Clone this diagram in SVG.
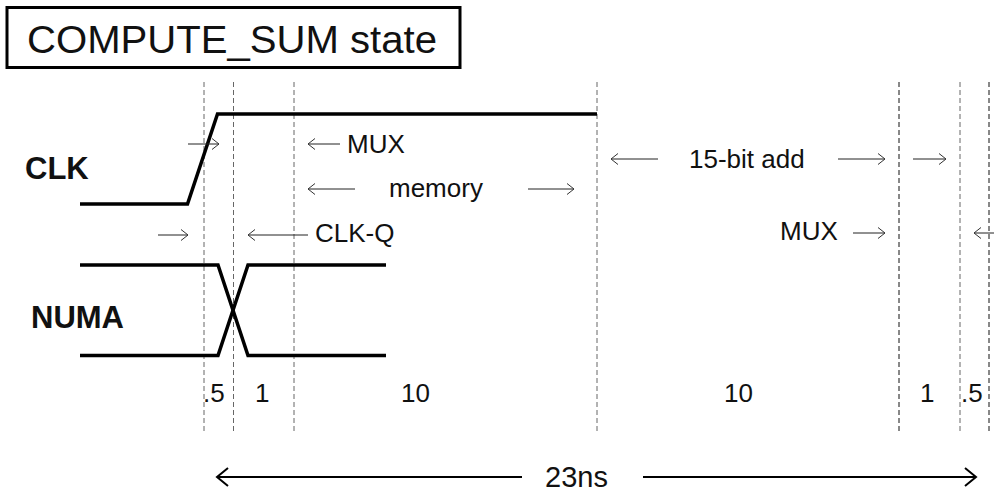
<svg xmlns="http://www.w3.org/2000/svg" width="994" height="495" viewBox="0 0 994 495">
<style>
text{font-family:"Liberation Sans",Arial,sans-serif;fill:#111}
.lbl{font-size:26px}
.sig{font-size:31px;font-weight:bold}
.num{font-size:26px}
.dash{stroke:#666;stroke-width:1;stroke-dasharray:5,3;fill:none}
.dashd{stroke:#111;stroke-width:1;stroke-dasharray:5,3;fill:none}
.wave{stroke:#000;stroke-width:3.5;fill:none;stroke-linejoin:miter}
.arr{stroke:#222;stroke-width:1;fill:none}
.big{stroke:#000;stroke-width:2;fill:none}
</style>
<defs>
<marker id="ah" markerUnits="userSpaceOnUse" markerWidth="12" markerHeight="14" refX="8" refY="6" orient="auto" overflow="visible">
<path d="M1,0.5 L8,6 L1,11.5" fill="none" stroke="#333" stroke-width="1"/>
</marker>
<marker id="ahb" markerUnits="userSpaceOnUse" markerWidth="14" markerHeight="20" refX="11" refY="9" orient="auto" overflow="visible">
<path d="M0,0 L11,9 L0,18" fill="none" stroke="#000" stroke-width="2"/>
</marker>
</defs>
<g id="title">
<rect x="7" y="7.5" width="453" height="60" fill="#fff" stroke="#000" stroke-width="3"/>
<text x="27" y="53" font-size="38" textLength="410" lengthAdjust="spacingAndGlyphs">COMPUTE_SUM state</text>
</g>
<g id="gridlines">
<line class="dash" x1="204" y1="82" x2="204" y2="433"/>
<line class="dash" x1="233.5" y1="82" x2="233.5" y2="433"/>
<line class="dash" x1="294" y1="82" x2="294" y2="433"/>
<line class="dash" x1="597" y1="82" x2="597" y2="433"/>
<line class="dashd" x1="899" y1="82" x2="899" y2="433"/>
<line class="dash" x1="960" y1="82" x2="960" y2="433"/>
<line class="dashd" x1="989" y1="82" x2="989" y2="433"/>
</g>
<g id="clk">
<text class="sig" x="25" y="179">CLK</text>
<polyline class="wave" points="80,204 187.5,204 217.5,114 597,114"/>
</g>
<g id="numa">
<text class="sig" x="31" y="328">NUMA</text>
<polyline class="wave" points="80,265 218,265 248,355.5 386,355.5"/>
<polyline class="wave" points="80,355.5 218,355.5 248,265 386,265"/>
</g>
<g id="connectors">
<line class="arr" x1="188" y1="144" x2="219" y2="144" marker-end="url(#ah)"/>
<line class="arr" x1="340" y1="144" x2="308" y2="144" marker-end="url(#ah)"/>
<line class="arr" x1="355" y1="189" x2="308" y2="189" marker-end="url(#ah)"/>
<line class="arr" x1="528" y1="189" x2="574" y2="189" marker-end="url(#ah)"/>
<line class="arr" x1="158" y1="235" x2="188" y2="235" marker-end="url(#ah)"/>
<line class="arr" x1="308" y1="235" x2="248" y2="235" marker-end="url(#ah)"/>
<line class="arr" x1="658" y1="159" x2="611" y2="159" marker-end="url(#ah)"/>
<line class="arr" x1="838" y1="159" x2="885" y2="159" marker-end="url(#ah)"/>
<line class="arr" x1="913" y1="159" x2="946" y2="159" marker-end="url(#ah)"/>
<line class="arr" x1="853" y1="233" x2="885" y2="233" marker-end="url(#ah)"/>
<line class="arr" x1="1002" y1="233" x2="974" y2="233" marker-end="url(#ah)"/>
<line class="big" x1="522" y1="477" x2="217" y2="477" marker-end="url(#ahb)"/>
<line class="big" x1="643" y1="477" x2="976" y2="477" marker-end="url(#ahb)"/>
</g>
<g id="labels">
<text class="lbl" x="347" y="153">MUX</text>
<text class="lbl" x="389" y="197">memory</text>
<text class="lbl" x="315" y="242">CLK-Q</text>
<text class="lbl" x="689" y="168">15-bit add</text>
<text class="lbl" x="780" y="240">MUX</text>
</g>
<g id="durations">
<text class="num" x="203" y="402">.5</text>
<text class="num" x="255" y="402">1</text>
<text class="num" x="401" y="402">10</text>
<text class="num" x="724" y="402">10</text>
<text class="num" x="920" y="402">1</text>
<text class="num" x="961" y="402">.5</text>
<text x="545" y="487" font-size="29">23ns</text>
</g>
</svg>
